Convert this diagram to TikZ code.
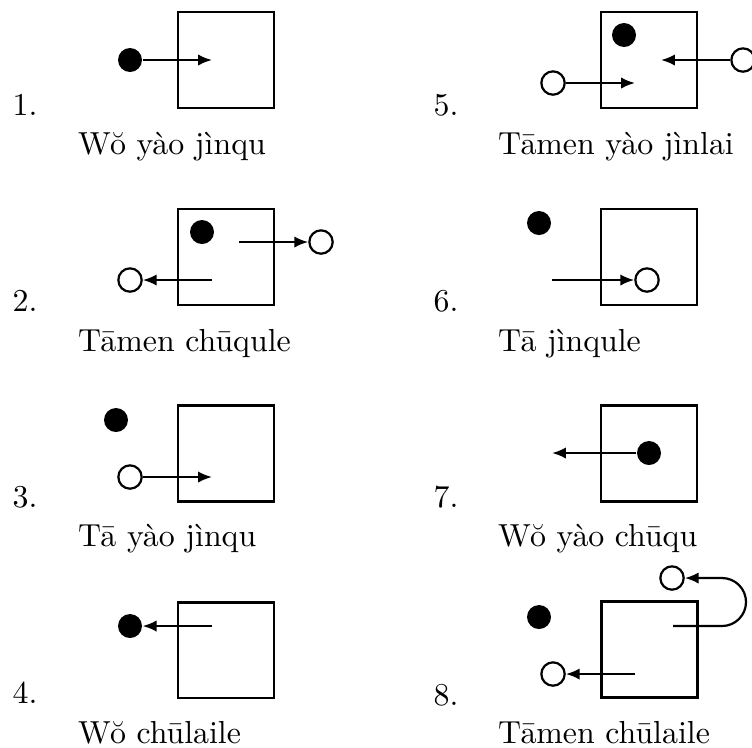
\documentclass[tikz,border=0pt]{standalone}
\usepackage{fontspec}
\usetikzlibrary{arrows.meta}
\tikzset{
  box/.style={draw, line width=0.9pt, minimum size=30.4pt, inner sep=0pt},
  dotB/.style={circle, fill=black, inner sep=0pt, minimum size=7.6pt},
  dotW/.style={circle, draw, fill=white, line width=0.7pt, inner sep=0pt, minimum size=7.4pt},
  arr/.style={line width=0.7pt, -{Latex[length=4.4pt,width=3.6pt]}},
  captxt/.style={anchor=base west, inner sep=0pt, font=\fontsize{10.1}{12}\selectfont},
  numtxt/.style={anchor=base west, inner sep=0pt, font=\fontsize{10.1}{12}\selectfont}
}
\begin{document}
\begin{tikzpicture}[x=0.317pt,y=-0.317pt]
\useasboundingbox (0,0) rectangle (752,747);
% ---------- Panel 1
\node[box] (b1) at (226,60) {};
\node[dotB] (p1) at (130,60) {};
\coordinate (e1) at (212,60);
\draw[arr] (p1) -- (e1);
\node[numtxt] (n1) at (12,115) {1.};
\node[captxt] (t1) at (77.5,154) {Wŏ yào jìnqu};
% ---------- Panel 2
\node[box] (b2) at (226,257) {};
\node[dotB] (p2) at (202,232) {};
\coordinate (s2a) at (239,242);
\node[dotW] (q2a) at (321,242) {};
\draw[arr] (s2a) -- (q2a);
\coordinate (s2b) at (212,280);
\node[dotW] (q2b) at (130,280) {};
\draw[arr] (s2b) -- (q2b);
\node[numtxt] (n2) at (12,311.7) {2.};
\node[captxt] (t2) at (77.5,351.7) {Tāmen chūqule};
% ---------- Panel 3
\node[box] (b3) at (226,453.5) {};
\node[dotB] (p3) at (116,420) {};
\node[dotW] (q3) at (130,477) {};
\coordinate (e3) at (212,477);
\draw[arr] (q3) -- (e3);
\node[numtxt] (n3) at (12,507.7) {3.};
\node[captxt] (t3) at (77.5,546.7) {Tā yào jìnqu};
% ---------- Panel 4
\node[box] (b4) at (226,650) {};
\node[dotB] (p4) at (130,626) {};
\coordinate (s4) at (212,626);
\draw[arr] (s4) -- (p4);
\node[numtxt] (n4) at (12,703.3) {4.};
\node[captxt] (t4) at (77.5,743) {Wŏ chūlaile};
% ---------- Panel 5
\node[box] (b5) at (649,60) {};
\node[dotB] (p5) at (624,35) {};
\node[dotW] (q5a) at (553,83) {};
\coordinate (e5a) at (635,83);
\draw[arr] (q5a) -- (e5a);
\node[dotW] (q5b) at (743,60) {};
\coordinate (e5b) at (661,60);
\draw[arr] (q5b) -- (e5b);
\node[numtxt] (n5) at (433,115) {5.};
\node[captxt] (t5) at (497.5,154) {Tāmen yào jìnlai};
% ---------- Panel 6
\node[box] (b6) at (649,257) {};
\node[dotB] (p6) at (539,223) {};
\coordinate (s6) at (552,280);
\node[dotW] (q6) at (647,280) {};
\draw[arr] (s6) -- (q6);
\node[numtxt] (n6) at (433,311.7) {6.};
\node[captxt] (t6) at (497.5,351.7) {Tā jìnqule};
% ---------- Panel 7
\node[box] (b7) at (649,453.5) {};
\node[dotB] (p7) at (649,453) {};
\coordinate (e7) at (552,453);
\draw[arr] (p7) -- (e7);
\node[numtxt] (n7) at (433,507.7) {7.};
\node[captxt] (t7) at (497.5,546.7) {Wŏ yào chūqu};
% ---------- Panel 8
\node[box] (b8) at (649.5,649.5) {};
\node[dotB] (p8) at (539,617) {};
\coordinate (s8a) at (635,674);
\node[dotW] (q8a) at (553,674) {};
\draw[arr] (s8a) -- (q8a);
\coordinate (s8b) at (673,626);
\coordinate (m8) at (722,626);
\node[dotW] (q8b) at (672,578) {};
\draw[arr] (s8b) -- (m8) arc[start angle=90, end angle=-90, radius=24] -- (q8b);
\node[numtxt] (n8) at (433,705) {8.};
\node[captxt] (t8) at (497.5,743) {Tāmen chūlaile};
\end{tikzpicture}
\end{document}
